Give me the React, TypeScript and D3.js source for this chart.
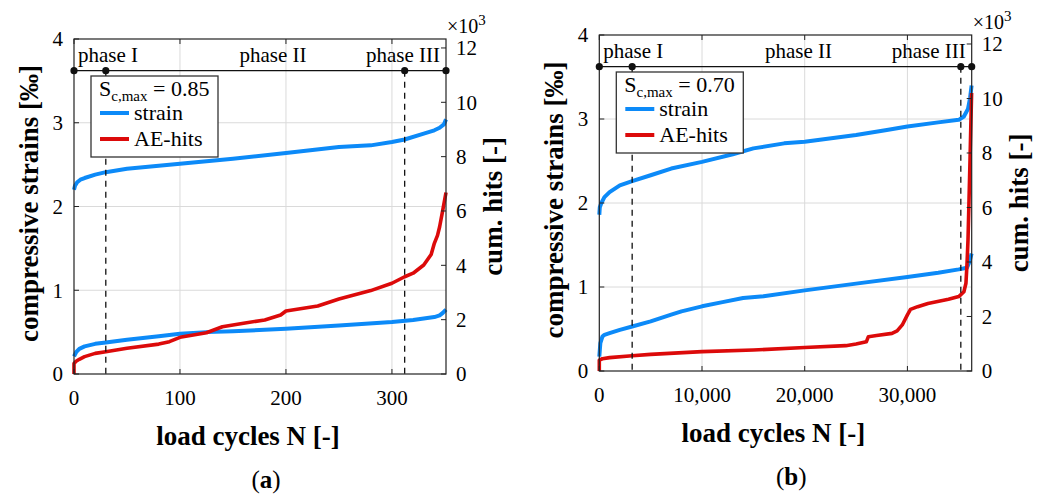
import React from "react";
import * as d3 from "d3";

// ---------- Data ----------
// Panel (a): S_c,max = 0.85
const aStrainUpperN = [0, 1, 3, 6, 10, 20, 30, 50, 75, 100, 150, 200, 250, 280, 300, 312, 330, 340, 345, 349, 351];
const aStrainUpper = [2.2, 2.25, 2.29, 2.32, 2.34, 2.38, 2.41, 2.45, 2.48, 2.51, 2.57, 2.64, 2.71, 2.73, 2.77, 2.8, 2.87, 2.91, 2.94, 2.98, 3.04];
const aStrainLowerN = [0, 2, 5, 10, 20, 30, 50, 80, 100, 125, 150, 200, 250, 300, 320, 340, 345, 348, 351];
const aStrainLower = [0.21, 0.26, 0.3, 0.33, 0.36, 0.375, 0.41, 0.45, 0.48, 0.5, 0.51, 0.54, 0.58, 0.62, 0.645, 0.68, 0.7, 0.73, 0.77];
const aHitsN = [0, 0, 2, 5, 10, 20, 30, 50, 80, 90, 100, 125, 140, 160, 180, 195, 200, 230, 250, 280, 300, 312, 320, 330, 337, 340, 343, 345, 348, 351];
const aHits = [0, 0.39, 0.47, 0.54, 0.64, 0.76, 0.82, 0.95, 1.1, 1.19, 1.35, 1.52, 1.74, 1.87, 1.99, 2.17, 2.32, 2.5, 2.76, 3.07, 3.34, 3.58, 3.71, 4.01, 4.4, 4.81, 5.1, 5.42, 6.04, 6.68];

// Panel (b): S_c,max = 0.70
const bStrainUpperN = [0, 50, 200, 500, 1000, 2000, 3200, 5000, 7000, 10000, 13000, 15000, 18000, 20000, 25000, 28000, 30000, 33000, 35000, 35500, 35900, 36100, 36250];
const bStrainUpper = [1.86, 1.95, 2.0, 2.07, 2.13, 2.21, 2.26, 2.33, 2.41, 2.49, 2.58, 2.65, 2.71, 2.73, 2.81, 2.87, 2.91, 2.96, 2.99, 3.03, 3.12, 3.25, 3.4];
const bStrainLowerN = [0, 100, 300, 500, 1000, 2000, 3200, 5000, 7000, 8000, 10000, 12000, 14000, 16000, 20000, 25000, 30000, 33000, 35000, 35800, 36050, 36250];
const bStrainLower = [0.17, 0.33, 0.41, 0.43, 0.45, 0.49, 0.53, 0.59, 0.67, 0.71, 0.77, 0.82, 0.87, 0.89, 0.96, 1.04, 1.12, 1.17, 1.21, 1.23, 1.3, 1.4];
const bHitsN = [0, 0, 300, 1000, 3200, 5000, 10000, 15000, 20000, 24000, 25000, 26000, 26200, 27000, 28500, 29000, 29500, 30000, 30300, 31000, 32000, 34000, 35000, 35500, 35700, 35800, 35900, 36000, 36100, 36200, 36250];
const bHits = [0, 0.4, 0.45, 0.49, 0.56, 0.61, 0.71, 0.77, 0.86, 0.93, 0.99, 1.07, 1.26, 1.3, 1.38, 1.47, 1.69, 2.06, 2.26, 2.36, 2.48, 2.63, 2.73, 2.91, 3.22, 3.9, 4.81, 6.28, 7.8, 9.4, 10.2];

const strainTicks = [0, 1, 2, 3, 4];
const hitsTicks = [0, 2, 4, 6, 8, 10, 12];
const aXTicks = [0, 100, 200, 300];
const bXTicks = [0, 10000, 20000, 30000];
const phaseLabels = ["phase I", "phase II", "phase III"];
const legendLabels = ["strain", "AE-hits"];

const BLUE = "#0c8af8";
const RED = "#dc0a0a";
const FONT = "'Liberation Serif', 'Times New Roman', serif";

type PanelProps = {
  left: number; right: number; top: number; bottom: number;
  xMax: number; xTicks: number[]; xFmt: (v: number) => string;
  p1: number; p3: number;
  upperN: number[]; upper: number[];
  lowerN: number[]; lower: number[];
  hitsN: number[]; hits: number[];
  smax: string; tag: string;
};

function Panel(p: PanelProps) {
  const x = d3.scaleLinear().domain([0, p.xMax]).range([p.left, p.right]);
  const y = d3.scaleLinear().domain([0, 4]).range([p.bottom, p.top]);
  const y2 = d3.scaleLinear().domain([0, 12.33]).range([p.bottom, p.top]);
  const bandY = p.top + 31.7;
  const line = d3.line<[number, number]>().x((d) => d[0]).y((d) => d[1]);
  const mk = (ns: number[], vs: number[], ys: d3.ScaleLinear<number, number>) =>
    line(ns.map((n, i) => [x(n), ys(vs[i])] as [number, number])) || "";
  const w = p.right - p.left;
  const lx = p.left + 17;
  const ly = p.top + 37;
  return (
    <g fontFamily={FONT}>
      {/* grid */}
      {p.xTicks.filter((t) => t > 0).map((t) => (
        <line key={"gx" + t} x1={x(t)} x2={x(t)} y1={p.top} y2={p.bottom} stroke="#dadada" strokeWidth={1} />
      ))}
      {strainTicks.filter((t) => t > 0 && t < 4).map((t) => (
        <line key={"gy" + t} x1={p.left} x2={p.right} y1={y(t)} y2={y(t)} stroke="#dadada" strokeWidth={1} />
      ))}
      {/* curves */}
      <path d={mk(p.upperN, p.upper, y)} fill="none" stroke={BLUE} strokeWidth={4} strokeLinejoin="round" />
      <path d={mk(p.lowerN, p.lower, y)} fill="none" stroke={BLUE} strokeWidth={4} strokeLinejoin="round" />
      <path d={mk(p.hitsN, p.hits, y2)} fill="none" stroke={RED} strokeWidth={3.6} strokeLinejoin="round" />
      {/* dashed phase lines */}
      {[p.p1, p.p3].map((v) => (
        <line key={"d" + v} x1={x(v)} x2={x(v)} y1={bandY} y2={p.bottom} stroke="#111" strokeWidth={1.3} strokeDasharray="6,5" />
      ))}
      {/* axes box */}
      <rect x={p.left} y={p.top} width={w} height={p.bottom - p.top} fill="none" stroke="#222" strokeWidth={1.2} />
      {/* ticks */}
      {strainTicks.map((t) => (
        <g key={"yt" + t}>
          <line x1={p.left} x2={p.left + 5} y1={y(t)} y2={y(t)} stroke="#222" />
          <text x={p.left - 11} y={y(t)} dy="0.35em" textAnchor="end" fontSize={21}>{t}</text>
        </g>
      ))}
      {hitsTicks.map((t) => (
        <g key={"y2t" + t}>
          <line x1={p.right - 5} x2={p.right} y1={y2(t)} y2={y2(t)} stroke="#222" />
          <text x={p.right + 10} y={y2(t)} dy="0.35em" textAnchor="start" fontSize={21}>{t}</text>
        </g>
      ))}
      {p.xTicks.map((t) => (
        <g key={"xt" + t}>
          <line x1={x(t)} x2={x(t)} y1={p.bottom} y2={p.bottom - 5} stroke="#222" />
          <line x1={x(t)} x2={x(t)} y1={p.top} y2={p.top + 5} stroke="#222" />
          <text x={x(t)} y={p.bottom + 31} textAnchor="middle" fontSize={21}>{p.xFmt(t)}</text>
        </g>
      ))}
      <text x={p.right + 1} y={p.top - 6} fontSize={20}>
        ×10<tspan dy={-8} fontSize={15}>3</tspan>
      </text>
      {/* phase band */}
      <line x1={p.left} x2={p.right} y1={bandY} y2={bandY} stroke="#111" strokeWidth={1.3} />
      {[0, p.p1, p.p3, p.xMax].map((v) => (
        <circle key={"c" + v} cx={x(v)} cy={bandY} r={3.6} fill="#111" />
      ))}
      <text x={p.left + 4} y={p.top + 23} fontSize={21}>{phaseLabels[0]}</text>
      <text x={p.left + w * 0.535} y={p.top + 23} fontSize={21} textAnchor="middle">{phaseLabels[1]}</text>
      <text x={p.right - 6} y={p.top + 23} fontSize={21} textAnchor="end">{phaseLabels[2]}</text>
      {/* legend */}
      <rect x={lx} y={ly} width={127} height={81} fill="#fff" stroke="#333" strokeWidth={1.3} />
      <text x={lx + 8} y={ly + 20} fontSize={22}>
        S<tspan dy={5} fontSize={15}>c,max</tspan><tspan dy={-5}> = {p.smax}</tspan>
      </text>
      <line x1={lx + 9} x2={lx + 38} y1={ly + 37} y2={ly + 37} stroke={BLUE} strokeWidth={4} />
      <text x={lx + 43} y={ly + 44} fontSize={22}>{legendLabels[0]}</text>
      <line x1={lx + 9} x2={lx + 38} y1={ly + 63} y2={ly + 63} stroke={RED} strokeWidth={4} />
      <text x={lx + 43} y={ly + 70} fontSize={22}>{legendLabels[1]}</text>
      {/* axis titles */}
      <text transform={`translate(${p.left - 36},${(p.top + p.bottom) / 2 - 3}) rotate(-90)`} textAnchor="middle" fontSize={27} fontWeight="bold">
        compressive strains [‰]
      </text>
      <text transform={`translate(${p.right + 56},${(p.top + p.bottom) / 2}) rotate(-90)`} textAnchor="middle" fontSize={27} fontWeight="bold">
        cum. hits [-]
      </text>
      <text x={p.left + 174} y={p.bottom + 71} textAnchor="middle" fontSize={27} fontWeight="bold">
        load cycles N [-]
      </text>
      <text x={p.left + 192} y={p.bottom + 114} textAnchor="middle" fontSize={25}>
        (<tspan fontWeight="bold">{p.tag}</tspan>)
      </text>
    </g>
  );
}

export default function App() {
  const fmtA = (v: number) => String(v);
  const fmtB = d3.format(",");
  return (
    <svg width={1041} height={495} style={{ position: "absolute", left: 0, top: 0, background: "#fff" }}>
      <rect width={1041} height={495} fill="#fff" />
      <Panel left={74} right={446} top={39} bottom={374} xMax={351} xTicks={aXTicks} xFmt={fmtA}
        p1={30} p3={312}
        upperN={aStrainUpperN} upper={aStrainUpper} lowerN={aStrainLowerN} lower={aStrainLower}
        hitsN={aHitsN} hits={aHits} smax="0.85" tag="a" />
      <Panel left={599.3} right={971.7} top={35} bottom={371} xMax={36260} xTicks={bXTicks} xFmt={(v) => fmtB(v)}
        p1={3200} p3={35200}
        upperN={bStrainUpperN} upper={bStrainUpper} lowerN={bStrainLowerN} lower={bStrainLower}
        hitsN={bHitsN} hits={bHits} smax="0.70" tag="b" />
    </svg>
  );
}
